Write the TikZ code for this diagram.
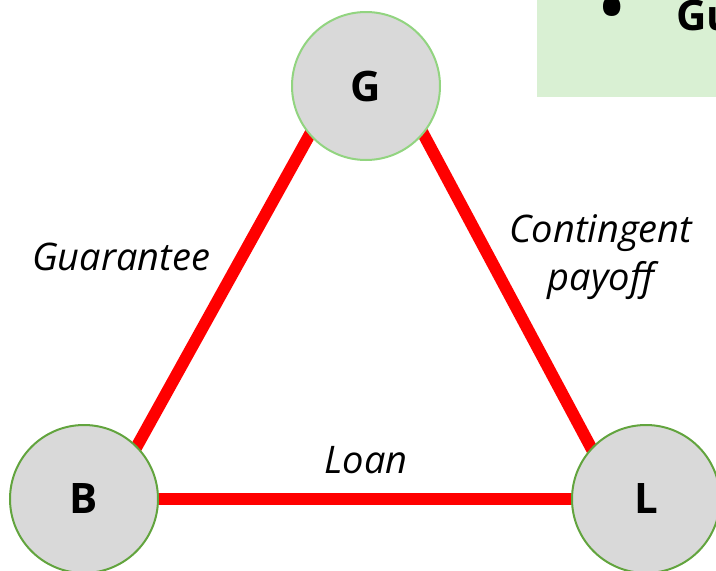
\documentclass[tikz,border=0pt]{standalone}
\usepackage{fontspec}
\setmainfont{Open Sans}
\usetikzlibrary{backgrounds}
\definecolor{boxgreen}{RGB}{217,240,211}
\definecolor{nodefill}{RGB}{217,217,217}
\definecolor{darkgreen}{RGB}{98,164,62}
\definecolor{lightgreen}{RGB}{146,212,128}
\begin{document}
\begin{tikzpicture}[x=1pt,y=-1pt,
  party/.style={circle,fill=nodefill,line width=2pt,minimum size=148pt,inner sep=0pt,
    font=\fontsize{42}{50}\selectfont\bfseries},
  link/.style={draw=red,line width=12pt,shorten <=-6pt,shorten >=-6pt},
  lbl/.style={font=\fontsize{38}{48}\selectfont\itshape,inner sep=0pt,align=center}]
\useasboundingbox (0,0) rectangle (716,571);
\fill[boxgreen] (537,-5) rectangle (730,97);
\node[anchor=base,inner sep=0pt,font=\fontsize{62}{70}\selectfont\bfseries] (bul) at (612,29) {•};
\node[anchor=base west,inner sep=0pt,font=\fontsize{42}{50}\selectfont\bfseries] (gu) at (676,30) {Gu};
\node[party,draw=lightgreen] (G) at (366,86) {G};
\node[party,draw=darkgreen] (B) at (84,499) {B};
\node[party,draw=darkgreen] (L) at (646,499) {L};
\begin{pgfonlayer}{background}
\draw[link] (B.45) -- (G.221);
\draw[link] (G.320) -- (L.137);
\draw[link] (B.0) -- (L.180);
\end{pgfonlayer}
\node[lbl,anchor=base] (guar) at (121,270) {Guarantee};
\node[lbl,anchor=base] (cont) at (601,242) {Contingent};
\node[lbl,anchor=base] (pay) at (601,290) {payoff};
\node[lbl,anchor=base] (loan) at (366,473) {Loan};
\end{tikzpicture}
\end{document}
